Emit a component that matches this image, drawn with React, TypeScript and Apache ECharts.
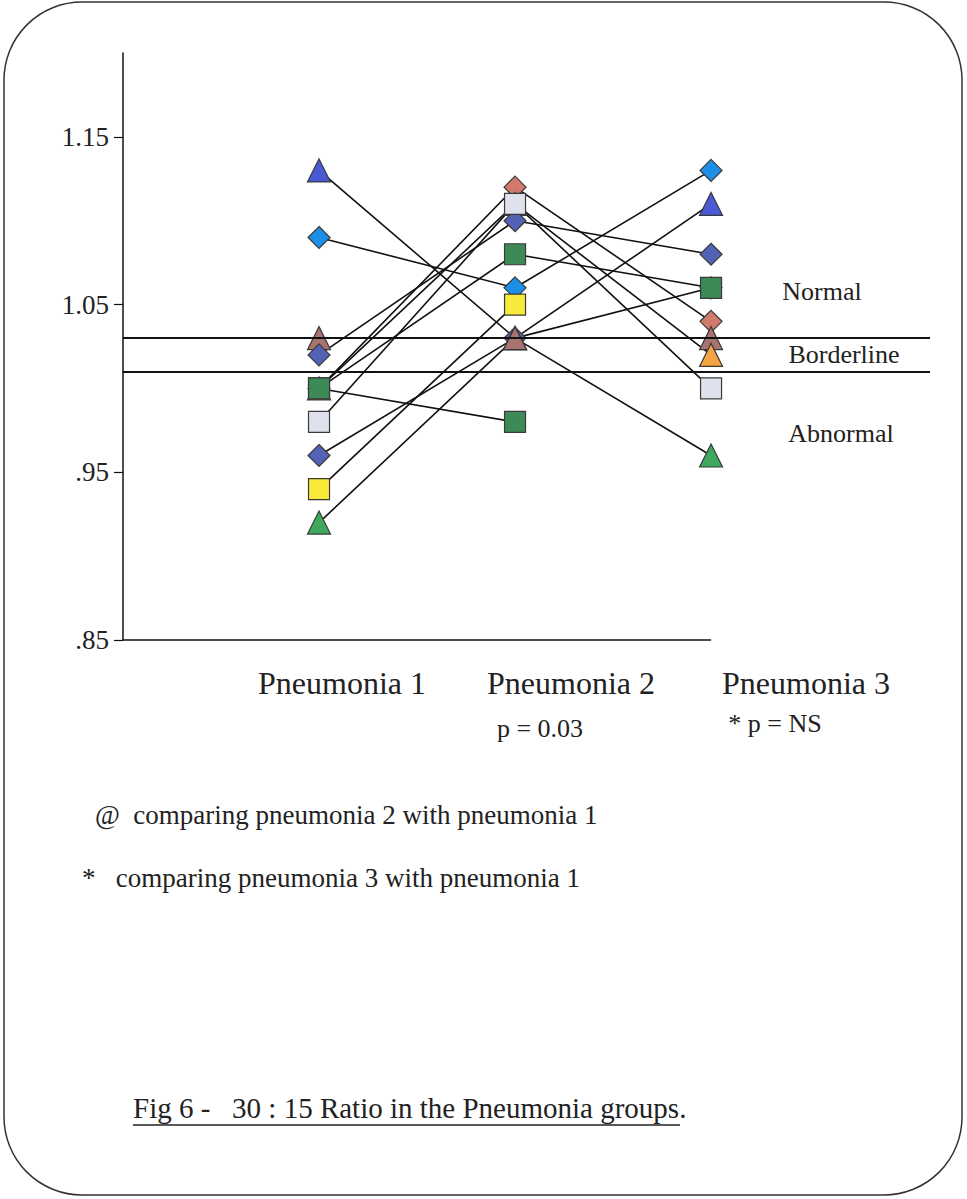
import React, { useEffect, useRef } from "react";
import * as echarts from "echarts";

// ---- data ----
const categories = ["Pneumonia 1", "Pneumonia 2", "Pneumonia 3"];
const categoryX = [1, 2, 3];
const pValues = ["", "p = 0.03", "* p = NS"];
const yTicks = [0.85, 0.95, 1.05, 1.15];
const bandLines = [1.03, 1.01];
const bandLabels = ["Normal", "Borderline", "Abnormal"];
const notes = [
  "@  comparing pneumonia 2 with pneumonia 1",
  "*   comparing pneumonia 3 with pneumonia 1",
];
const caption = "Fig 6 -   30 : 15 Ratio in the Pneumonia groups.";

// one array per subject: values at Pneumonia 1, 2, 3
const blueDiamondLow = [0.96, 1.03, 1.06];
const greenTriangle = [0.92, 1.03, 0.96];
const blueTriangle = [1.13, 1.03, 1.11];
const brownDiamond = [1.0, 1.12, 1.04];
const brownTriangle = [1.03, 1.03, 1.03];
const orangeTriangle = [1.0, 1.11, 1.02];
const blueDiamondHigh = [1.02, 1.1, 1.08];
const cyanDiamond = [1.09, 1.06, 1.13];
const yellowSquare = [0.94, 1.05, null];
const greenSquareA = [1.0, 1.08, 1.06];
const greenSquareB = [1.0, 0.98, null];
const graySquare = [0.98, 1.11, 1.0];

const subjects = [
  { name: "s1", values: blueDiamondLow, symbol: "diamond", color: "#5362b4" },
  { name: "s2", values: greenTriangle, symbol: "triangle", color: "#3ea85c" },
  { name: "s3", values: blueTriangle, symbol: "triangle", color: "#4a5ad6" },
  { name: "s4", values: brownDiamond, symbol: "diamond", color: "#d27a6c" },
  { name: "s5", values: brownTriangle, symbol: "triangle", color: "#a9746f" },
  { name: "s6", values: orangeTriangle, symbol: "triangle", color: "#f4a443" },
  { name: "s7", values: blueDiamondHigh, symbol: "diamond", color: "#5362b4" },
  { name: "s8", values: cyanDiamond, symbol: "diamond", color: "#1e8fe6" },
  { name: "s9", values: yellowSquare, symbol: "rect", color: "#f8ea3a" },
  { name: "s10", values: greenSquareA, symbol: "rect", color: "#3d8a57" },
  { name: "s11", values: greenSquareB, symbol: "rect", color: "#3d8a57" },
  { name: "s12", values: graySquare, symbol: "rect", color: "#dfe2ec" },
];

const FONT = '"Liberation Serif", "Times New Roman", serif';

export default function App() {
  const ref = useRef<HTMLDivElement>(null);

  useEffect(() => {
    if (!ref.current) return;
    const chart = echarts.init(ref.current, null, { renderer: "svg" });

    const series: any[] = subjects.map((s) => ({
      name: s.name,
      type: "line",
      data: s.values.map((v, i) => [categoryX[i], v]),
      symbol: s.symbol,
      symbolSize: s.symbol === "triangle" ? 23 : s.symbol === "diamond" ? 22 : 21,
      connectNulls: false,
      lineStyle: { color: "#111", width: 1.6 },
      itemStyle: { color: s.color, borderColor: "#3a3a3a", borderWidth: 1.2 },
      emphasis: { disabled: true },
      z: 3,
    }));

    series.push({
      name: "guides",
      type: "line",
      data: [],
      silent: true,
      markLine: {
        silent: true,
        symbol: "none",
        label: { show: false },
        animation: false,
        data: [
          ...bandLines.map((v) => ({
            yAxis: v,
            lineStyle: { color: "#111", width: 2.2, type: "solid" },
          })),
          [
            { coord: [0, yTicks[0]], lineStyle: { color: "#111", width: 1.5, type: "solid" } },
            { coord: [categoryX[2], yTicks[0]] },
          ],
        ],
      },
      z: 2,
    });

    const catLabelX = [342, 571, 806];
    const pLabelX = [0, 540, 775];
    const graphics: any[] = [
      {
        type: "rect",
        shape: { x: 4, y: 2, width: 958, height: 1193, r: 78 },
        style: { fill: "none", stroke: "#333", lineWidth: 1.5 },
        z: 0,
        silent: true,
      },
      ...categories.map((c, i) => ({
        type: "text",
        x: catLabelX[i],
        y: 683,
        style: { text: c, font: `32px ${FONT}`, fill: "#222", textAlign: "center", textVerticalAlign: "middle" },
      })),
      ...pValues
        .map((p, i) => ({ p, i }))
        .filter((o) => o.p)
        .map((o) => ({
          type: "text",
          x: pLabelX[o.i],
          y: o.i === 1 ? 728 : 723,
          style: { text: o.p, font: `26px ${FONT}`, fill: "#222", textAlign: "center", textVerticalAlign: "middle" },
        })),
      ...bandLabels.map((b, i) => ({
        type: "text",
        x: [822, 844, 841][i],
        y: [291, 354, 433][i],
        style: { text: b, font: `26px ${FONT}`, fill: "#222", textAlign: "center", textVerticalAlign: "middle" },
      })),
      ...notes.map((n, i) => ({
        type: "text",
        x: [95, 82][i],
        y: [815, 878][i],
        style: { text: n, font: `27px ${FONT}`, fill: "#222", textAlign: "left", textVerticalAlign: "middle" },
      })),
      {
        type: "text",
        x: 133,
        y: 1108,
        style: { text: caption, font: `29px ${FONT}`, fill: "#222", textAlign: "left", textVerticalAlign: "middle" },
      },
      {
        type: "line",
        shape: { x1: 133, y1: 1125, x2: 680, y2: 1125 },
        style: { stroke: "#222", lineWidth: 1.5 },
      },
    ];

    chart.setOption({
      animation: false,
      backgroundColor: "#fff",
      grid: { left: 123, top: 53, width: 807, height: 587, containLabel: false },
      xAxis: {
        type: "value",
        min: 0,
        max: 4.117,
        axisLine: { show: false },
        axisTick: { show: false },
        axisLabel: { show: false },
        splitLine: { show: false },
      },
      yAxis: {
        type: "value",
        min: 0.85,
        max: 1.2,
        axisLine: { show: true, lineStyle: { color: "#111", width: 1.5 } },
        axisTick: { show: true, length: 9, lineStyle: { color: "#111", width: 1.2 }, customValues: yTicks },
        axisLabel: {
          show: true,
          customValues: yTicks,
          margin: 14,
          fontFamily: FONT,
          fontSize: 27,
          color: "#222",
          formatter: (v: number) => v.toFixed(2).replace(/^0/, ""),
        },
        splitLine: { show: false },
      },
      series,
      graphic: graphics,
    });

    return () => chart.dispose();
  }, []);

  return (
    <div
      ref={ref}
      style={{ position: "fixed", left: 0, top: 0, width: 967, height: 1199, background: "#fff" }}
    />
  );
}
